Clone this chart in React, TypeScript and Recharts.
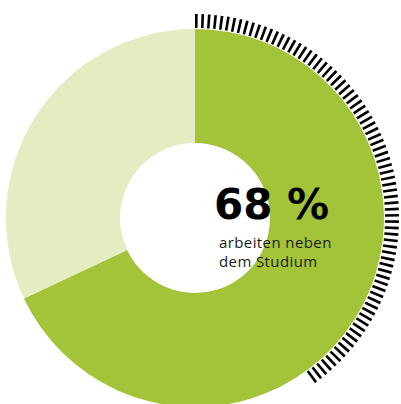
import { Cell, Pie, PieChart } from "recharts";

const shareLabels = ["arbeiten neben dem Studium", "arbeiten nicht"];
const shareValues = [68, 32];
const shareColors = ["#a3c438", "#e4ecc2"];

// decorative hatched arc around the right side of the ring
const hatchShare = 40;
const hatchCount = 80;

const headline = "68 %";
const captionLines = ["arbeiten neben", "dem Studium"];

const shareData = shareLabels.map((name, i) => ({
  name,
  value: shareValues[i],
}));

const hatchData = Array.from({ length: hatchCount }, (_, i) => ({
  name: `hatch-${i}`,
  value: 1,
}));

export default function App() {
  return (
    <div style={{ position: "absolute", left: 0, top: 0, width: 401, height: 404 }}>
      <PieChart width={401} height={404} margin={{ top: 0, right: 0, bottom: 0, left: 0 }}>
        <Pie
          data={shareData}
          dataKey="value"
          cx={195}
          cy={218}
          innerRadius={75}
          outerRadius={189}
          startAngle={90}
          endAngle={-270}
          stroke="none"
          isAnimationActive={false}
        >
          {shareData.map((d, i) => (
            <Cell key={d.name} fill={shareColors[i]} />
          ))}
        </Pie>
        <Pie
          data={hatchData}
          dataKey="value"
          cx={195}
          cy={218}
          innerRadius={190}
          outerRadius={204}
          startAngle={90}
          endAngle={90 - (360 * hatchShare) / 100}
          paddingAngle={1.05}
          stroke="none"
          fill="#000"
          isAnimationActive={false}
        />
      </PieChart>
      <svg
        width={401}
        height={404}
        style={{ position: "absolute", left: 0, top: 0, pointerEvents: "none" }}
      >
        <text
          x={214}
          y={219}
          fontFamily="DejaVu Sans"
          fontWeight={700}
          fontSize={42}
          fill="#000"
        >
          {headline}
        </text>
        {captionLines.map((line, i) => (
          <text
            key={line}
            x={219}
            y={248 + i * 19}
            fontFamily="Open Sans"
            fontSize={15}
            letterSpacing={0.4}
            fill="#1a1a1a"
          >
            {line}
          </text>
        ))}
      </svg>
    </div>
  );
}
